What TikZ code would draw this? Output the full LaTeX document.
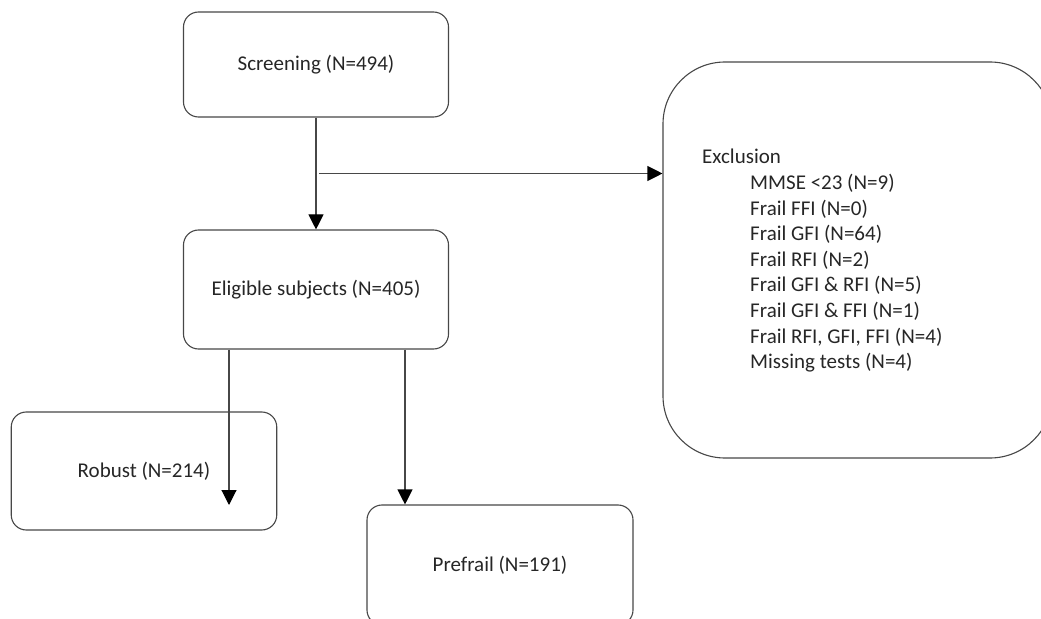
\documentclass[tikz,border=0pt]{standalone}
\usepackage{fontspec}
\setmainfont{Carlito}
\usetikzlibrary{arrows.meta,calc}
\begin{document}
\begin{tikzpicture}[x=1bp,y=-1bp,
  linecol/.style={draw=black!72, line width=1.1bp},
  flowbox/.style={linecol, rectangle, rounded corners=15bp, minimum width=265bp, inner sep=0pt, font=\fontsize{21bp}{25.6bp}\selectfont, text=black!85},
  flowarrow/.style={linecol, -{Triangle[width=15bp,length=15bp,color=black]}},
  itemtext/.style={anchor=base west, inner sep=0pt, font=\fontsize{21bp}{25.6bp}\selectfont, text=black!85}]
\useasboundingbox (0,0) rectangle (1041,619);
\begin{scope}
\clip (0,0) rectangle (1041,619);
\node[flowbox, minimum height=105bp] (scr) at (316,64.5) {Screening (N=494)};
\node[flowbox, minimum height=119bp] (elig) at (316,289.5) {Eligible subjects (N=405)};
\node[flowbox, minimum width=265.5bp, minimum height=118bp] (rob) at (144,471) {Robust (N=214)};
\node[flowbox, minimum width=266bp, minimum height=120bp] (pre) at (500,565) {Prefrail (N=191)};
\node[linecol, rectangle, rounded corners=62bp, minimum width=389bp, minimum height=396bp, inner sep=0pt] (excl) at (857.5,260) {};
\end{scope}
\node[itemtext] (ex0) at (702,164) {Exclusion};
\node[itemtext] (ex1) at (750,189.6) {MMSE <23 (N=9)};
\node[itemtext] (ex2) at (750,215.2) {Frail FFI (N=0)};
\node[itemtext] (ex3) at (750,240.8) {Frail GFI (N=64)};
\node[itemtext] (ex4) at (750,266.4) {Frail RFI (N=2)};
\node[itemtext] (ex5) at (750,292) {Frail GFI \& RFI (N=5)};
\node[itemtext] (ex6) at (750,317.6) {Frail GFI \& FFI (N=1)};
\node[itemtext] (ex7) at (750,343.2) {Frail RFI, GFI, FFI (N=4)};
\node[itemtext] (ex8) at (750,368.8) {Missing tests (N=4)};
\coordinate (split) at ($(scr.south)!0.5!(elig.north)$);
\coordinate (robtip) at (229,505);
\coordinate (prex) at (405,0);
\draw[flowarrow] (scr.south) -- (elig.north);
\draw[flowarrow] ([xshift=3bp]split) -- (split -| excl.west);
\draw[flowarrow] (elig.south -| robtip) -- (robtip);
\draw[flowarrow] (elig.south -| prex) -- (pre.north -| prex);
\end{tikzpicture}
\end{document}
